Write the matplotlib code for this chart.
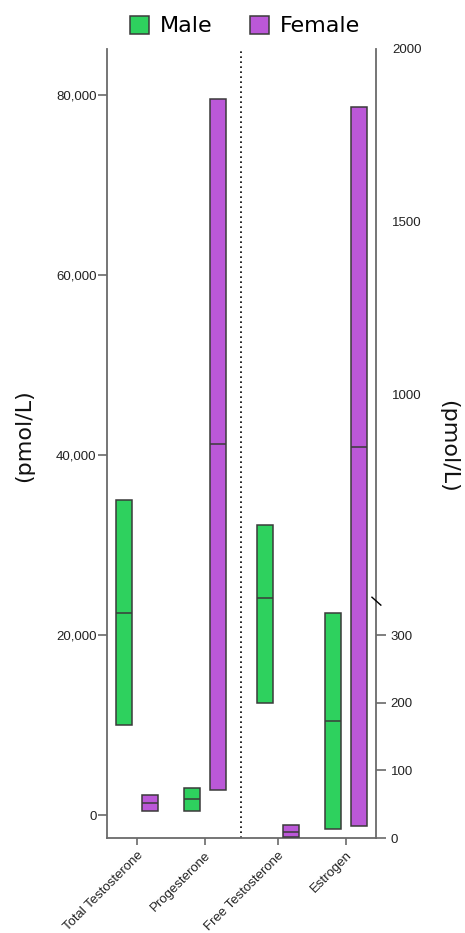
import numpy as np
import matplotlib
matplotlib.use("Agg")
import matplotlib.pyplot as plt
from matplotlib.patches import Patch

# reference ranges (pmol/L): low / midpoint / high
categories = ["Total Testosterone", "Progesterone", "Free Testosterone", "Estrogen"]
male_low = [10000, 500, 200, 13]
male_mid = [22500, 1750, 410, 173]
male_high = [35000, 3000, 620, 333]
female_low = [400, 2800, 1, 18]
female_mid = [1300, 41200, 9, 846]
female_high = [2200, 79500, 19, 1831]

left_ticks = [0, 20000, 40000, 60000, 80000]
right_low_ticks = [0, 100, 200, 300]
right_high_ticks = [1000, 1500, 2000]

GREEN = "#2ed15e"
PURPLE = "#bb58d8"
EDGE = "#3a3a3a"
SPINE = "#6a6a6a"

# broken right axis: 0-350 full size, 400-2000 squeezed
LO_TOP = 350
HI_BOTTOM = 400
HI_SQUEEZE = 0.51


def fwd(v):
    v = np.asarray(v, dtype=float)
    return np.where(v <= LO_TOP, v,
                    np.where(v < HI_BOTTOM, LO_TOP,
                             LO_TOP + (v - HI_BOTTOM) * HI_SQUEEZE))


def inv(u):
    u = np.asarray(u, dtype=float)
    return np.where(u <= LO_TOP, u, HI_BOTTOM + (u - LO_TOP) / HI_SQUEEZE)


plt.rcParams["font.family"] = ["Liberation Sans", "DejaVu Sans"]

fig = plt.figure(figsize=(4.65, 9.33), dpi=100)
ax = fig.add_axes([0.2301, 0.1018, 0.5785, 0.8457])
ax2 = ax.twinx()
ax2.set_yscale("function", functions=(fwd, inv))

xpos = np.arange(len(categories)) + np.array([0, 0, 1, 1]) * 0.07
off = 0.19
width = 0.235

for i, x in enumerate(xpos):
    target = ax if i < 2 else ax2
    for dx, lo, mid, hi, col in [(-off, male_low, male_mid, male_high, GREEN),
                                 (off, female_low, female_mid, female_high, PURPLE)]:
        target.bar(x + dx, hi[i] - lo[i], bottom=lo[i], width=width,
                   color=col, edgecolor=EDGE, linewidth=1.1, zorder=3)
        target.hlines(mid[i], x + dx - width / 2, x + dx + width / 2,
                      color=EDGE, linewidth=1.1, zorder=4)

ax.set_xlim(-0.44, 3.515)
ax.set_ylim(-2556, 85111)
ax2.set_ylim(0, 2000)

# divider between the two unit groups
ax.axvline((xpos[1] + xpos[2]) / 2, color="black", linestyle=(0, (1, 2)),
           linewidth=1.2, zorder=1)

for a in (ax, ax2):
    for s in a.spines.values():
        s.set_color(SPINE)
        s.set_linewidth(1.3)
    a.spines["top"].set_visible(False)
ax.spines["right"].set_visible(False)
ax2.spines["left"].set_visible(False)
ax2.spines["bottom"].set_visible(False)

ax.set_yticks(left_ticks)
ax.set_yticklabels([f"{v:,}" for v in left_ticks])
ax.tick_params(axis="y", length=6.5, width=1.2, color=SPINE, pad=1,
               labelsize=9.5, labelcolor="#222222")

ax.set_xticks(xpos)
ax.set_xticklabels(categories, rotation=45, ha="right", rotation_mode="anchor")
ax.tick_params(axis="x", length=5, width=1.2, color=SPINE, pad=3,
               labelsize=9.5, labelcolor="#222222")

ax2.set_yticks(right_low_ticks)
ax2.set_yticklabels([str(v) for v in right_low_ticks])
ax2.set_yticks(right_high_ticks, minor=True)
ax2.set_yticklabels([str(v) for v in right_high_ticks], minor=True)
ax2.tick_params(axis="y", which="major", length=7.5, width=1.2, color=SPINE,
                pad=3, labelsize=9.5, labelcolor="#222222")
ax2.tick_params(axis="y", which="minor", length=0, pad=11.5,
                labelsize=9.5, labelcolor="#222222")

# break mark on the right spine
yb = fwd(LO_TOP) / fwd(2000)
ax2.plot([0.985, 1.018], [yb + 0.005, yb - 0.005], transform=ax2.transAxes,
         color="black", linewidth=1.0, clip_on=False, zorder=5)

fig.text(24 / 465, 1 - 436 / 933, "(pmol/L)", rotation=90, ha="center",
         va="center", fontsize=16, family="DejaVu Sans", color="#111111")
fig.text(448 / 465, 1 - 446 / 933, "(pmol/L)", rotation=270, ha="center",
         va="center", fontsize=16, family="DejaVu Sans", color="#111111")

handles = [Patch(facecolor=GREEN, edgecolor=EDGE, linewidth=1.1, label="Male"),
           Patch(facecolor=PURPLE, edgecolor=EDGE, linewidth=1.1, label="Female")]
fig.legend(handles=handles, loc="center", bbox_to_anchor=(0.527, 1 - 26 / 933),
           ncol=2, frameon=False, handlelength=0.86, handleheight=0.86,
           handletextpad=0.5, columnspacing=1.7,
           prop={"family": "DejaVu Sans", "size": 16})

fig.savefig("out.png", dpi=100)
